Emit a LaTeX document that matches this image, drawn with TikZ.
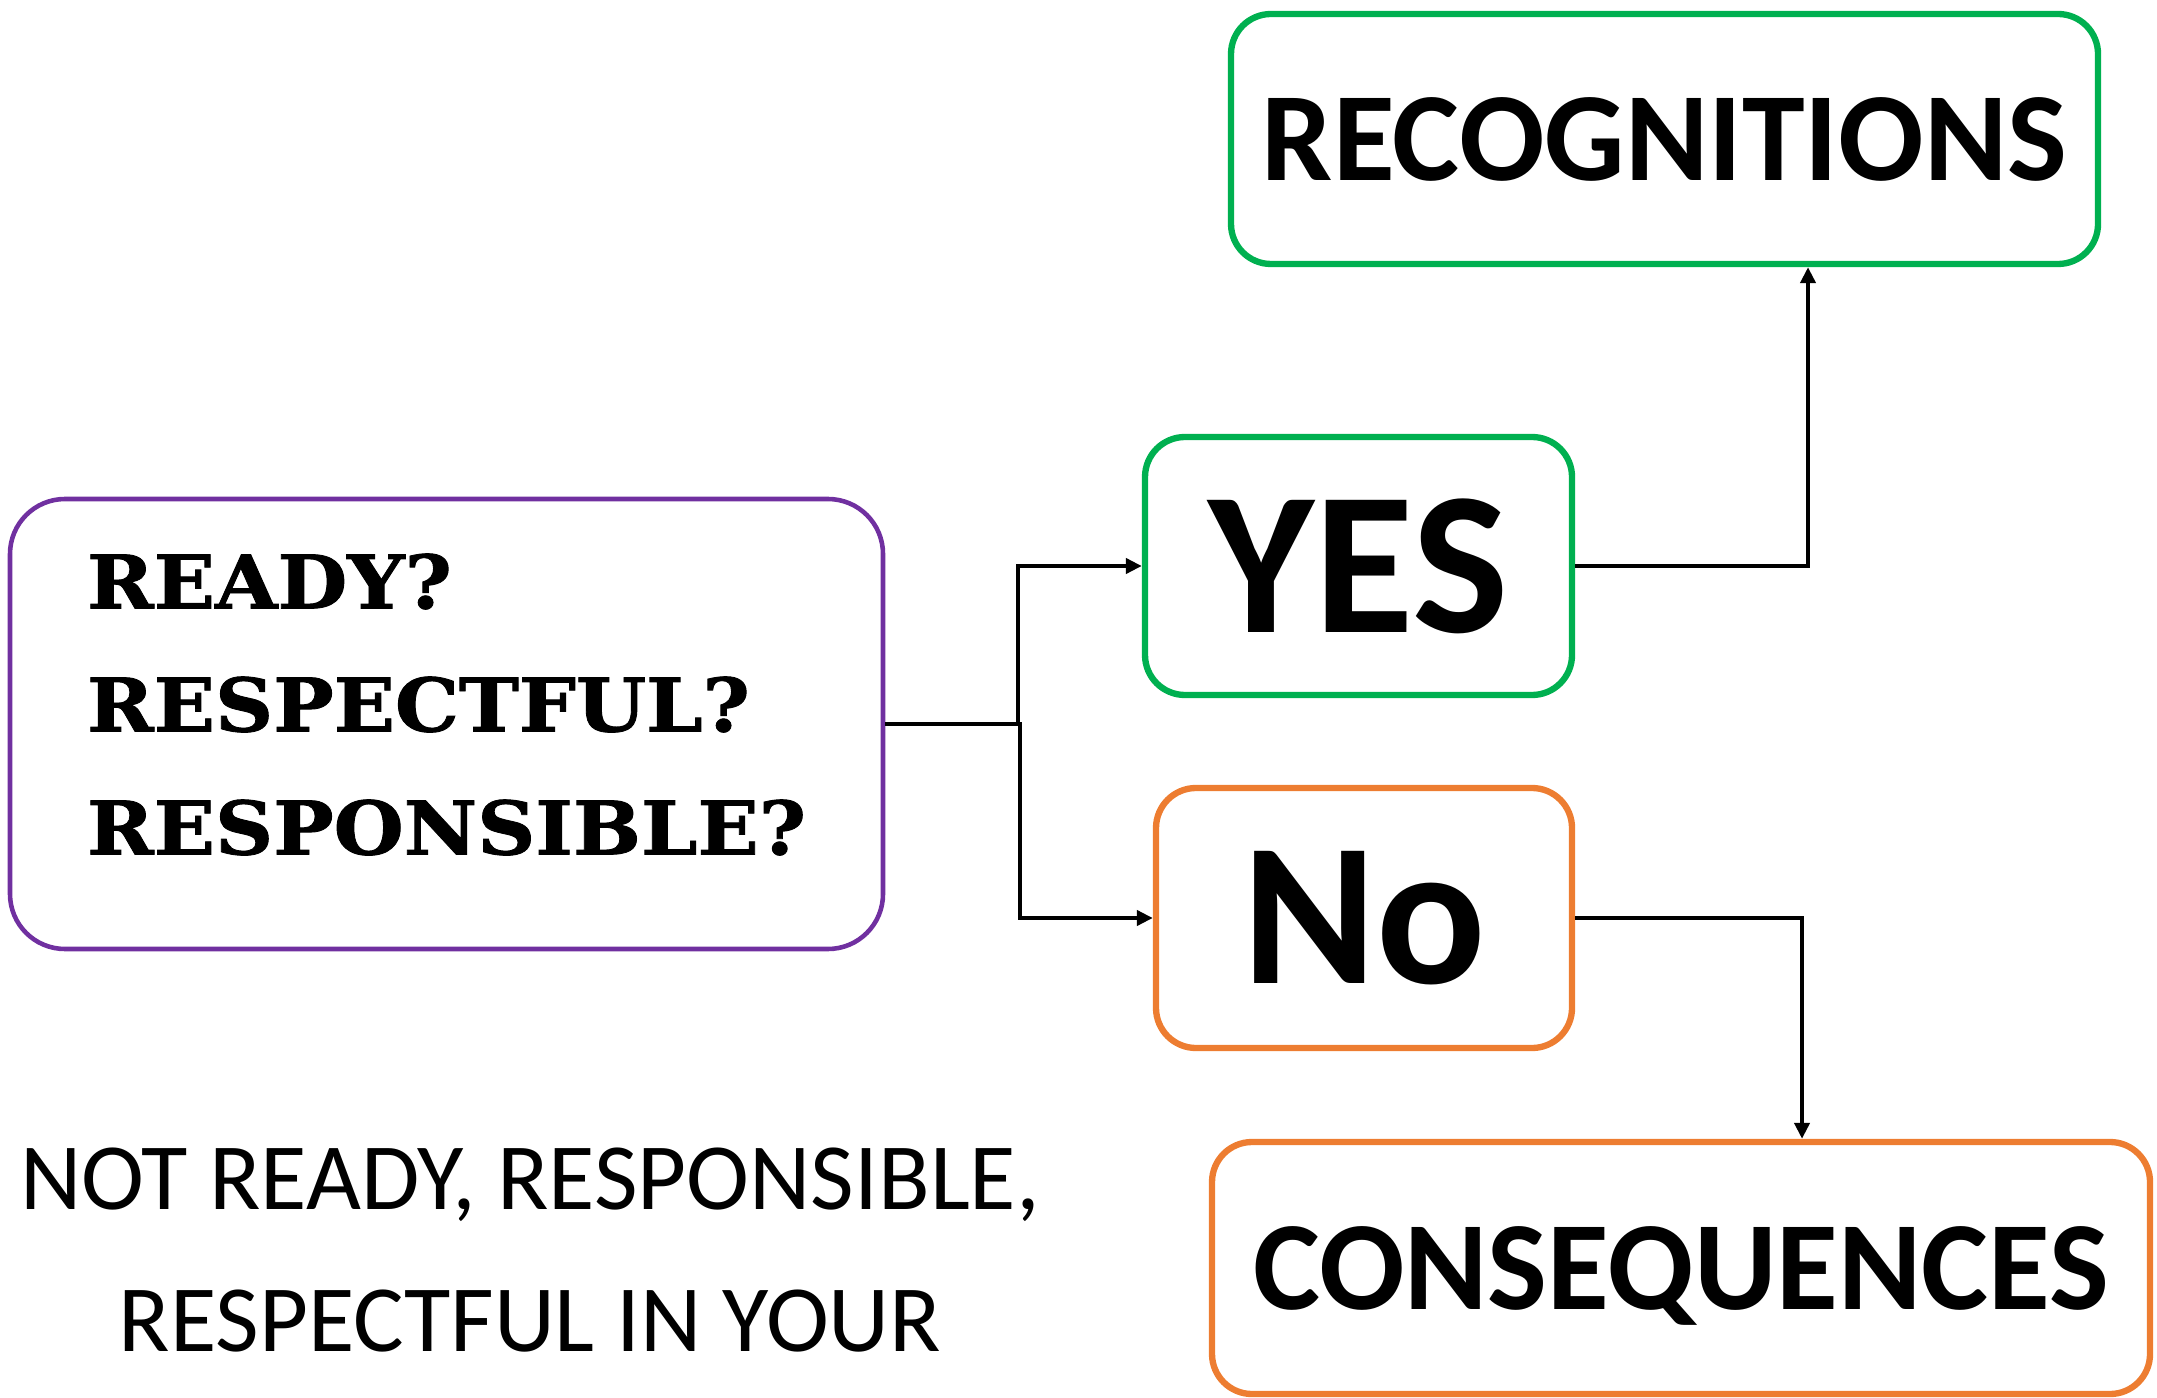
\documentclass[tikz,border=0pt]{standalone}
\usepackage{fontspec}
\setmainfont{Carlito}
\newfontfamily\slabfont{DejaVu Serif}[BoldFeatures={FakeBold=1.2,FakeStretch=1.09}]
\usetikzlibrary{arrows.meta,positioning}

\definecolor{qpurple}{HTML}{7030A0}
\definecolor{okgreen}{HTML}{00B050}
\definecolor{noorange}{HTML}{ED7D31}

\begin{document}
\begin{tikzpicture}[
    box/.style={draw,rounded corners=0.4cm,line width=1.8pt,inner sep=0pt,align=center},
    arr/.style={-{Triangle[length=0.16cm,width=0.15cm]},line width=1.3pt,black}
]
    \useasboundingbox (0,0) rectangle (21.57,-13.98);

    \node[box,draw=qpurple,line width=1.3pt,rounded corners=0.55cm,minimum width=8.73cm,minimum height=4.5cm,
          align=left,text depth=0.4cm,font=\slabfont\bfseries\fontsize{21}{35}\selectfont]
        (q) at (4.465,-7.24) {READY?\\RESPECTFUL?\\RESPONSIBLE?};

    \node[box,draw=okgreen,minimum width=4.27cm,minimum height=2.58cm,font=\bfseries\fontsize{58}{60}\selectfont]
        (yes) at (13.585,-5.66) {\raisebox{-0.14cm}{YES}};
    \node[box,draw=noorange,minimum width=4.16cm,minimum height=2.6cm,font=\bfseries\fontsize{58}{60}\selectfont]
        (no) at (13.64,-9.18) {No};

    \node[box,draw=okgreen,minimum width=8.67cm,minimum height=2.5cm,font=\bfseries\fontsize{36}{40}\selectfont]
        (rec) at (16.645,-1.39) {RECOGNITIONS};
    \node[box,draw=noorange,minimum width=9.38cm,minimum height=2.52cm,text depth=0pt,font=\bfseries\fontsize{36}{40}\selectfont]
        (cons) at (16.81,-12.68) {CONSEQUENCES};

    \node[align=center,inner sep=0pt,font=\fontsize{27}{40.5}\selectfont] (note) at (5.3,-12.5)
        {NOT READY, RESPONSIBLE,\\RESPECTFUL IN YOUR};

    \coordinate (sy) at (10.18,-7.24);
    \coordinate (sn) at (10.20,-7.24);

    \draw[arr] (q.east) -- (sy) |- (yes.west);
    \draw[arr] (sy) -- (sn) |- (no.west);

    \draw[arr] (yes.east) -| ([xshift=1.435cm]rec.south);
    \draw[arr] (no.east) -| ([xshift=1.21cm]cons.north);
\end{tikzpicture}
\end{document}
